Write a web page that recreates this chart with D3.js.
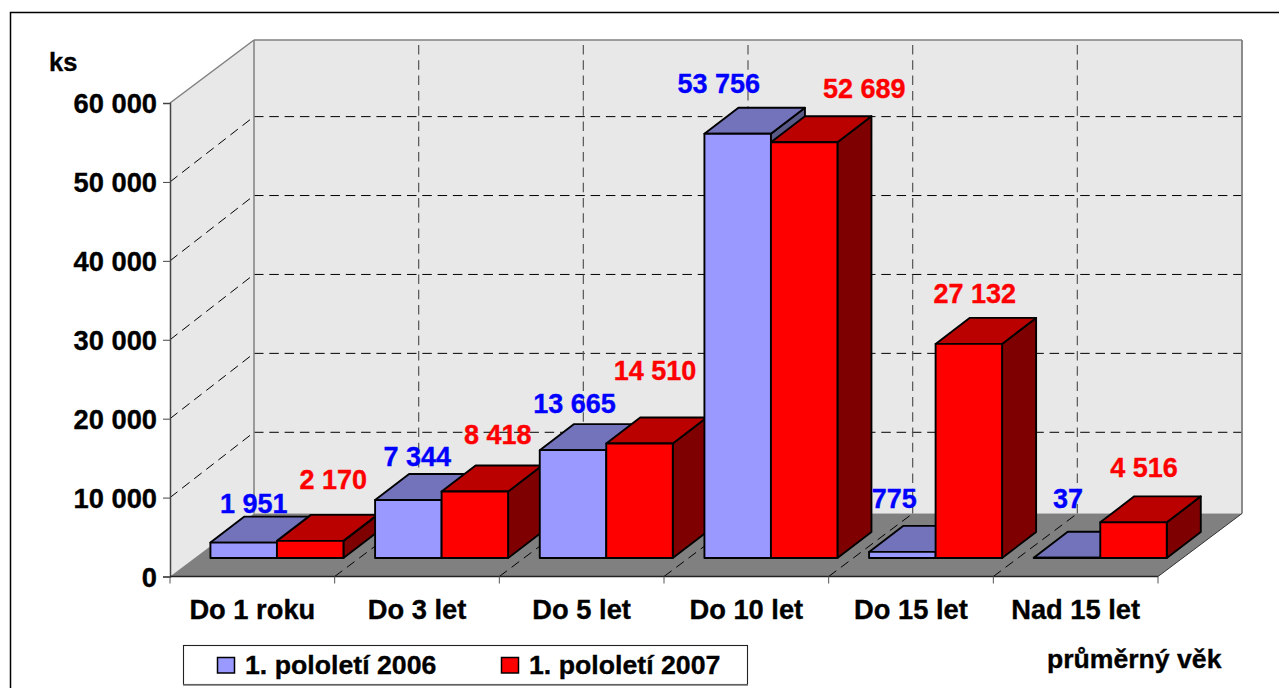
<!DOCTYPE html>
<html><head><meta charset="utf-8">
<style>html,body{margin:0;padding:0;background:#fff}svg{display:block}text{font-family:"Liberation Sans",Arial,sans-serif;font-weight:bold;stroke-width:.35px;paint-order:stroke}</style>
<script src="https://cdn.jsdelivr.net/npm/d3@7/dist/d3.min.js"></script>
</head><body><svg id="c" width="1279" height="688"></svg>
<script>
const categories = ["Do 1 roku","Do 3 let","Do 5 let","Do 10 let","Do 15 let","Nad 15 let"];
const seriesNames = ["1. pololetí 2006","1. pololetí 2007"];
const values2006 = [1951,7344,13665,53756,775,37];
const values2007 = [2170,8418,14510,52689,27132,4516];
const yTicks = [0,10000,20000,30000,40000,50000,60000];
const fmt = v => String(v).replace(/\B(?=(\d{3})+$)/g," ");

// layout only
const nudge2006 = [[10,-29.6],[9,-34],[1.5,-37],[-19,-41],[-8,-44],[1,-50]];
const nudge2007 = [[23,-52],[23,-47.6],[15.5,-63.6],[60,-44.6],[6,-41],[10.5,-45.4]];
const F = {x0:170,x1:1158,y0:576.5,y1:103};
const wall = {dx:84,dy:-63,gridDy:-65.3};
const floorOff = {dx:24.6,dy:-18.5};
const barD = {dx:34,dy:-26};
const svg = d3.select("#c");
const x = d3.scaleBand().domain(categories).range([F.x0,F.x1]).paddingInner(0);
const xSub = d3.scaleBand().domain([0,1]).range([0,x.bandwidth()]).paddingOuter(0.238).paddingInner(0);
const y = d3.scaleLinear().domain([0,60000]).range([F.y0,F.y1]);
const poly = (pts,fill,stroke,sw)=>svg.append("polygon").attr("points",pts.map(p=>p.join(",")).join(" ")).attr("fill",fill).attr("stroke",stroke||"none").attr("stroke-width",sw||0).attr("stroke-linejoin","round");
const line = (a,b,stroke,sw,dash)=>svg.append("line").attr("x1",a[0]).attr("y1",a[1]).attr("x2",b[0]).attr("y2",b[1]).attr("stroke",stroke).attr("stroke-width",sw).attr("stroke-dasharray",dash||null);

// outer frame
svg.append("path").attr("d","M1279,12.5H10.5V688").attr("fill","none").attr("stroke","#000").attr("stroke-width",1.5);

const W=wall, bx=F.x0+W.dx, tx=F.x1+W.dx;
// walls
poly([[F.x0,y(0)],[bx,y(0)+W.dy],[bx,y(60000)+W.dy],[F.x0,y(60000)]],"#e8e8e8");
poly([[bx,y(0)+W.dy],[tx,y(0)+W.dy],[tx,y(60000)+W.dy],[bx,y(60000)+W.dy]],"#e8e8e8");
// floor
poly([[F.x0,y(0)],[F.x1,y(0)],[tx,y(0)+W.dy],[bx,y(0)+W.dy]],"#808080");

// grid
yTicks.slice(1,-1).forEach(t=>{
  line([F.x0,y(t)],[bx,y(t)+W.gridDy],"#000",1,"9.5 5.8");
  line([bx,y(t)+W.gridDy],[tx,y(t)+W.gridDy],"#000",1,"9.5 5.8");
});
categories.slice(1).forEach(c=>{
  const px=x(c);
  line([px,y(0)],[px+W.dx,y(0)+W.dy],"#000",1,"9.5 5.8");
  line([px+W.dx,y(0)+W.dy],[px+W.dx,y(60000)+W.dy],"#555",1.2,"9.5 5.8");
});
// wall edges
line([bx,y(0)+W.dy],[bx,y(60000)+W.dy],"#808080",1.5);
line([F.x0,y(60000)],[bx,y(60000)+W.dy],"#808080",1.5);
line([bx,y(60000)+W.dy],[tx,y(60000)+W.dy],"#808080",1.5);
line([tx,y(0)+W.dy],[tx,y(60000)+W.dy],"#808080",1.8);
line([F.x1,y(0)],[tx,y(0)+W.dy],"#333",1);

// axes
const yAxis = d3.axisLeft(y).tickValues(yTicks).tickSize(7).tickPadding(6).tickFormat(fmt);
const gy = svg.append("g").attr("transform",`translate(${F.x0},0)`).call(yAxis);
gy.select(".domain").attr("stroke","#444").attr("stroke-width",1.5);
gy.selectAll(".tick line").attr("stroke","#444").attr("stroke-width",1);
gy.selectAll("text").attr("font-size",27.3).attr("font-family",'"Liberation Sans"').attr("font-weight","bold").attr("fill","#000").attr("stroke","#000").attr("x",-13).attr("dy","0.36em");
line([F.x0,y(0)],[F.x1,y(0)],"#222",1.5);
[...categories.map(c=>x(c)),F.x1].forEach(px=>line([px,y(0)],[px,y(0)+7],"#555",1));
svg.selectAll(".cat").data(categories).join("text").attr("class","cat")
 .attr("x",c=>x(c)+x.bandwidth()/2).attr("y",619).attr("text-anchor","middle").attr("font-size",27.3).attr("stroke","#000").text(c=>c);

// bars
const cols=[{f:"#9999ff",t:"#7373bb",s:"#5a5a88"},{f:"#ff0000",t:"#bb0000",s:"#7f0000"}];
function bar(c,i,v){
  const bl=x(c)+xSub(i)+floorOff.dx, br=bl+xSub.bandwidth();
  const b=y(0)+floorOff.dy, t=b-(y(0)-y(v)), D=barD, k=cols[i];
  poly([[br,b],[br+D.dx,b+D.dy],[br+D.dx,t+D.dy],[br,t]],k.s,"#000",1.9);
  poly([[bl,t],[br,t],[br+D.dx,t+D.dy],[bl+D.dx,t+D.dy]],k.t,"#000",1.9);
  poly([[bl,b],[br,b],[br,t],[bl,t]],k.f,"#000",1.9);
}
categories.forEach((c,n)=>{bar(c,0,values2006[n]);bar(c,1,values2007[n]);});

// data labels
const label=(c,i,v,nd,col)=>{
  const bl=x(c)+xSub(i)+floorOff.dx, t=y(0)+floorOff.dy-(y(0)-y(v));
  svg.append("text").attr("x",bl+xSub.bandwidth()/2+nd[0]).attr("y",t+nd[1]).attr("text-anchor","middle").attr("font-size",27).attr("fill",col).attr("stroke",col).text(fmt(v));
};
categories.forEach((c,n)=>{label(c,0,values2006[n],nudge2006[n],"#0000ff");label(c,1,values2007[n],nudge2007[n],"#ff0000");});

// titles
svg.append("text").attr("x",49).attr("y",71).attr("font-size",25.5).attr("stroke","#000").text("ks");
svg.append("text").attr("x",1047).attr("y",668).attr("font-size",26.6).attr("stroke","#000").text("průměrný věk");

// legend
svg.append("rect").attr("x",183.5).attr("y",645.5).attr("width",564).attr("height",39).attr("fill","#fff").attr("stroke","#222").attr("stroke-width",1.1);
line([183,685],[748,685],"#777",1.6);
seriesNames.forEach((s,i)=>{
  const lx=[217.5,501.5][i];
  svg.append("rect").attr("x",lx).attr("y",657.5).attr("width",17).attr("height",15.5).attr("fill",cols[i].f).attr("stroke","#000").attr("stroke-width",1.5);
  svg.append("text").attr("x",lx+27.5).attr("y",674).attr("font-size",26.7).attr("stroke","#000").text(s);
});
</script></body></html>
